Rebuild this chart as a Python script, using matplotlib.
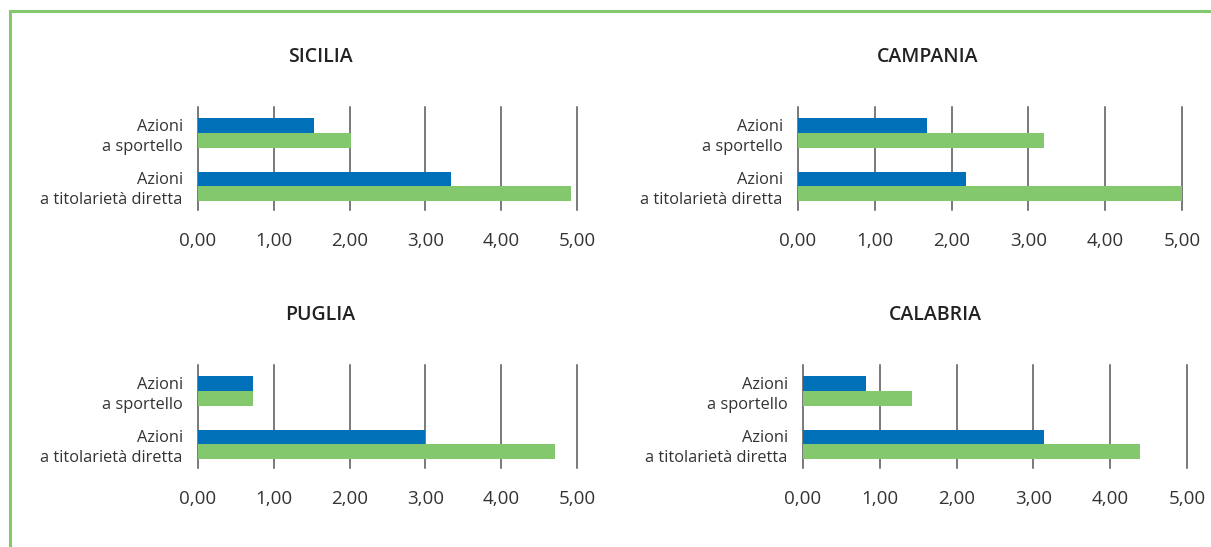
import matplotlib
matplotlib.use("Agg")
import matplotlib.pyplot as plt
from matplotlib.lines import Line2D
import numpy as np

plt.rcParams['font.family'] = ['Open Sans', 'DejaVu Sans']

regions = ["SICILIA", "CAMPANIA", "PUGLIA", "CALABRIA"]
categories = ["Azioni\na sportello", "Azioni\na titolarietà diretta"]
blue_values = {
    "SICILIA": [1.53, 3.34],
    "CAMPANIA": [1.68, 2.19],
    "PUGLIA": [0.73, 3.00],
    "CALABRIA": [0.82, 3.14],
}
green_values = {
    "SICILIA": [2.02, 4.92],
    "CAMPANIA": [3.20, 5.00],
    "PUGLIA": [0.73, 4.71],
    "CALABRIA": [1.42, 4.39],
}
xticks = [0, 1, 2, 3, 4, 5]
xtick_labels = ["0,00", "1,00", "2,00", "3,00", "4,00", "5,00"]

BLUE = "#0070b8"
GREEN = "#84c86e"
TEXT = "#333333"
GRID = "#555555"

W, H = 1211, 547
fig = plt.figure(figsize=(W / 100, H / 100), dpi=100)

# axes boxes in pixels: left, right, top, bottom
boxes = {
    "SICILIA": (198, 577, 107, 210),
    "CAMPANIA": (798, 1182, 107, 210),
    "PUGLIA": (198, 577, 365, 468),
    "CALABRIA": (803, 1187, 365, 468),
}
title_pos = {
    "SICILIA": (320, 57),
    "CAMPANIA": (928, 57),
    "PUGLIA": (320, 315),
    "CALABRIA": (935, 315),
}

bh = 0.275
for reg in regions:
    l, r, t, b = boxes[reg]
    ax = fig.add_axes([l / W, 1 - b / H, (r - l) / W, (b - t) / H])
    y = np.arange(len(categories))
    ax.barh(y - bh / 2, blue_values[reg], height=bh, color=BLUE, zorder=3)
    ax.barh(y + bh / 2, green_values[reg], height=bh, color=GREEN, zorder=3)
    ax.set_xlim(0, 5)
    ax.set_ylim(1.44, -0.48)
    ax.set_xticks(xticks)
    ax.set_xticklabels(xtick_labels)
    ax.set_yticks(y)
    ax.set_yticklabels(categories, ha='right', multialignment='right', linespacing=1.32)
    ax.tick_params(axis='both', length=0, colors=TEXT)
    ax.tick_params(axis='x', pad=16, labelsize=13.5)
    ax.tick_params(axis='y', pad=11, labelsize=11.8)
    for s in ax.spines.values():
        s.set_visible(False)
    ax.set_axisbelow(True)
    ax.xaxis.grid(True, color=GRID, linewidth=1.1)
    for gl in ax.get_xgridlines():
        gl.set_clip_on(False)
    ax.patch.set_alpha(0)
    tx, ty = title_pos[reg]
    fig.text(tx / W, 1 - ty / H, reg, ha='center', va='center', fontsize=14,
             fontweight='semibold', color='#222222')

# green frame
fig.add_artist(Line2D([10 / W, 1], [1 - 11 / H, 1 - 11 / H], color=GREEN, linewidth=2.2,
                      transform=fig.transFigure))
fig.add_artist(Line2D([10 / W, 10 / W], [0, 1 - 11 / H], color=GREEN, linewidth=2.2,
                      transform=fig.transFigure))

fig.savefig("out.png", dpi=100)
